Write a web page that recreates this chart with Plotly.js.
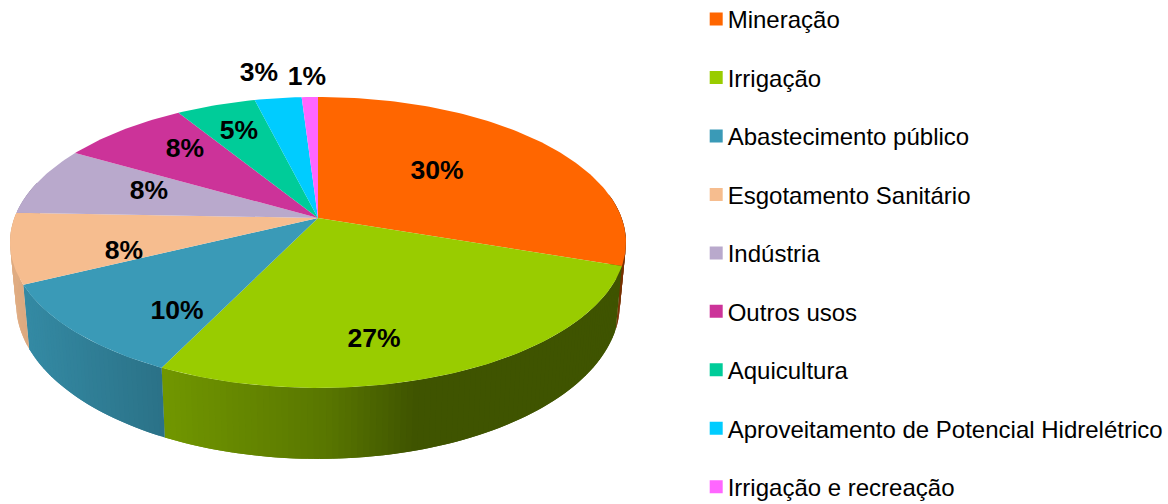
<!DOCTYPE html>
<html><head><meta charset="utf-8">
<script src="https://cdn.plot.ly/plotly-3.0.1.min.js"></script>
<style>html,body{margin:0;padding:0;background:#fff}#chart{width:1168px;height:504px}</style>
</head><body><div id="chart"></div>
<script>
const categories = ["Mineração","Irrigação","Abastecimento público","Esgotamento Sanitário","Indústria","Outros usos","Aquicultura","Aproveitamento de Potencial Hidrelétrico","Irrigação e recreação"];
const values = [30.2,27.0,10.6,7.8,7.7,7.9,4.9,2.9,1.0];
const labels = ["30%","27%","10%","8%","8%","8%","5%","3%","1%"];
const colors = ["#FF6600","#99CC00","#3A9AB7","#F6BD8F","#B9A9CC","#CC3399","#00CC99","#00CCFF","#FF66FF"];
const labelX = [437,374,177,124,149,185,239,259,307];
const labelY = [172,340,312,252,192,150,132,74,78];

// projection of the tilted disc to plot coordinates (axes are in page pixels)
const CX=318, CY=218, R=303.6, S=141.4, K=0.168;
function rim(deg){const a=deg*Math.PI/180,u=Math.sin(a),v=Math.cos(a),w=1+K*v;return [CX+R*u/w,CY-S*v/w];}
function low(p){return [CX+(p[0]-CX)*0.98,p[1]+63+0.065*(p[1]-266)];}
function shade(hex,f){const n=parseInt(hex.slice(1),16);return `rgb(${Math.round((n>>16&255)*f)},${Math.round((n>>8&255)*f)},${Math.round((n&255)*f)})`;}
const stops=[[0,.92],[20,.9],[163,.74],[330,.58],[420,.41],[700,.41]];
function factor(x){for(let i=1;i<stops.length;i++){if(x<=stops[i][0]){const a=stops[i-1],b=stops[i];return a[1]+(b[1]-a[1])*(x-a[0])/(b[0]-a[0]);}}return .41;}

const total=values.reduce((a,b)=>a+b,0);
const traces=[];
// side wall, drawn as overlapping strips so the shading changes smoothly along the rim
let start=0;
values.forEach((val,i)=>{
  const end=start+val/total*360;
  const from=Math.max(start,80), to=Math.min(end,285);
  for(let a=from;a<to;a+=1){
    const b=Math.min(a+2,to);
    const p=rim(a),q=rim(b),pl=low(p),ql=low(q);
    const f=i===0?0.47:factor(p[0]);
    const c=shade(colors[i],f);
    traces.push({type:"scatter",mode:"lines",x:[p[0],q[0],ql[0],pl[0],p[0]],y:[p[1],q[1],ql[1],pl[1],p[1]],
      fill:"toself",fillcolor:c,line:{width:0,color:c},showlegend:false,hoverinfo:"skip"});
  }
  start=end;
});
// top face
start=0;
values.forEach((val,i)=>{
  const end=start+val/total*360;
  const xs=[CX],ys=[CY];
  for(let a=start;;a+=1){const t=Math.min(a,end);const p=rim(t);xs.push(p[0]);ys.push(p[1]);if(t>=end)break;}
  xs.push(CX);ys.push(CY);
  traces.push({type:"scatter",mode:"lines",x:xs,y:ys,fill:"toself",fillcolor:colors[i],line:{width:0,color:colors[i]},
    name:categories[i],showlegend:false,legendgroup:"g"+i,hoverinfo:"name"});
  start=end;
});
// legend keys
categories.forEach((name,i)=>{
  traces.push({type:"scatter",mode:"markers",x:[null],y:[null],name:name,legendgroup:"g"+i,showlegend:true,
    marker:{symbol:"square",size:13,color:colors[i]}});
});
// percentage labels
traces.push({type:"scatter",mode:"text",x:labelX,y:labelY,text:labels,textposition:"middle center",
  textfont:{family:"Liberation Sans, Arial, sans-serif",size:26.5,color:"#000",weight:700},showlegend:false,hoverinfo:"skip"});

const layout={
  width:1168,height:504,margin:{l:0,r:0,t:0,b:0,autoexpand:false},paper_bgcolor:"#fff",plot_bgcolor:"#fff",
  xaxis:{range:[0,1168],visible:false,fixedrange:true},
  yaxis:{range:[504,0],visible:false,fixedrange:true},
  showlegend:true,
  legend:{x:687.7/1168,xanchor:"left",y:1.006,yanchor:"top",maxheight:700,tracegroupgap:24.25,itemwidth:30,traceorder:"grouped",bgcolor:"rgba(0,0,0,0)",
    font:{family:"Liberation Sans, Arial, sans-serif",size:24,color:"#000"}}
};
Plotly.newPlot("chart",traces,layout,{displayModeBar:false,staticPlot:true}).then(()=>{
  document.querySelectorAll("#chart .legendpoints").forEach(g=>g.setAttribute("transform","translate(8.5,0)"));
});
</script></body></html>
